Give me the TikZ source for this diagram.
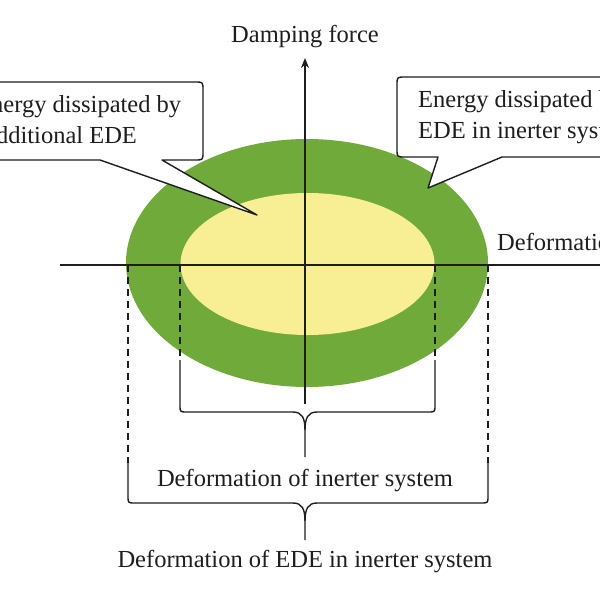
\documentclass[tikz,border=0pt]{standalone}
\usepackage{fontspec}
\setmainfont{Liberation Serif}
\usetikzlibrary{arrows.meta}
\definecolor{outergreen}{HTML}{6FAA3A}
\definecolor{inneryellow}{HTML}{F8EE94}
\definecolor{inkc}{HTML}{1E1E1E}
\begin{document}
\begin{tikzpicture}[x=1pt,y=-1pt,
  lbl/.style={inner sep=0pt, font=\fontsize{24.5}{31}\selectfont, text=inkc},
  axisline/.style={draw=inkc, line width=2pt},
  dashline/.style={draw=inkc, line width=1.5pt, dash pattern=on 7pt off 5pt},
  braceline/.style={draw=inkc, line width=1.4pt},
  callout/.style={draw=inkc, line width=1.4pt, fill=white, line join=round}]
\useasboundingbox (0,0) rectangle (600,600);
\clip (0,0) rectangle (600,600);
\fill[white] (0,0) rectangle (600,600);
% ellipses
\fill[outergreen] (307,263) ellipse [x radius=181, y radius=124];
\fill[inneryellow] (307.5,264) ellipse [x radius=127, y radius=71];
% coordinates
\coordinate (xl) at (60,265);
\coordinate (xr) at (610,265);
\coordinate (yb) at (305,404);
\coordinate (yt) at (305,58);
\coordinate (oL) at (128,265);
\coordinate (oR) at (488,265);
\coordinate (iL) at (180,265);
\coordinate (iR) at (435,265);
\coordinate (oLd) at (128,463);
\coordinate (oRd) at (488,463);
\coordinate (iLd) at (180,360);
\coordinate (iRd) at (435,360);
% axes
\draw[axisline] (xl) -- (xr);
\draw[axisline, -{Stealth[length=10pt,width=8pt]}] (yb) -- (yt);
% dashed projection lines
\draw[dashline] (oL) -- (oLd);
\draw[dashline] (oR) -- (oRd);
\draw[dashline] (iL) -- (iLd);
\draw[dashline] (iR) -- (iRd);
% inner brace
\coordinate (ibtip) at (305,457);
\draw[braceline] (iLd) -- (180,405) .. controls (180,412) .. (187,412)
  -- (293,412) .. controls (302,412) and (305,418) .. (305,430) -- (ibtip);
\draw[braceline] (iRd) -- (435,405) .. controls (435,412) .. (428,412)
  -- (317,412) .. controls (308,412) and (305,418) .. (305,430);
% outer brace
\coordinate (obtip) at (305,540);
\draw[braceline] (oLd) -- (128,496) .. controls (128,503) .. (135,503)
  -- (293,503) .. controls (302,503) and (305,509) .. (305,521) -- (obtip);
\draw[braceline] (oRd) -- (488,496) .. controls (488,503) .. (481,503)
  -- (317,503) .. controls (308,503) and (305,509) .. (305,521);
% labels
\node[lbl] (df) at (305,37) {Damping force};
\node[lbl, anchor=west] (def) at (497,242) {Deformation};
\node[lbl, anchor=north] (lin) at (ibtip) [yshift=-12pt] {Deformation of inerter system};
\node[lbl, anchor=north] (lout) at (obtip) [yshift=-10pt] {Deformation of EDE in inerter system};
% left callout
\coordinate (ltip) at (257,215);
\draw[callout] (-20,82) -- (195,82) .. controls (203,82) .. (203,90)
  -- (203,152) .. controls (203,160) .. (195,160)
  -- (162,160) -- (ltip) -- (100,160) -- (-20,160) -- cycle;
\node[lbl, anchor=base west, align=left] (ltext) at (-15,143) {\hspace*{-9pt}Energy dissipated by\\additional EDE};
% right callout
\coordinate (rtip) at (428,188);
\draw[callout] (620,77) -- (405,77) .. controls (397,77) .. (397,85)
  -- (397,149) .. controls (397,157) .. (405,157)
  -- (438,157) -- (rtip) -- (502,157) -- (620,157);
\node[lbl, anchor=base west, align=left] (rtext) at (418,138) {Energy dissipated by\\EDE in inerter system};
\end{tikzpicture}
\end{document}
